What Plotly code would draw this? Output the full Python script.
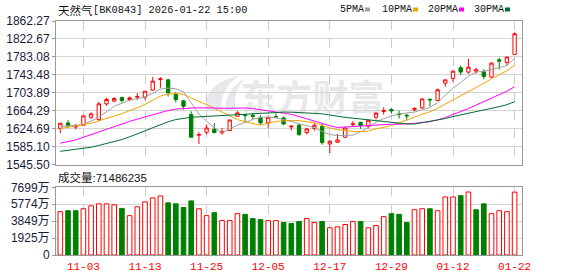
import plotly.graph_objects as go

dates = [
    "2025-10-29", "2025-10-30", "2025-10-31", "2025-11-03", "2025-11-04", "2025-11-05",
    "2025-11-06", "2025-11-07", "2025-11-10", "2025-11-11", "2025-11-12", "2025-11-13",
    "2025-11-14", "2025-11-17", "2025-11-18", "2025-11-19", "2025-11-20", "2025-11-21",
    "2025-11-24", "2025-11-25", "2025-11-26", "2025-11-27", "2025-11-28", "2025-12-01",
    "2025-12-02", "2025-12-03", "2025-12-04", "2025-12-05", "2025-12-08", "2025-12-09",
    "2025-12-10", "2025-12-11", "2025-12-12", "2025-12-15", "2025-12-16", "2025-12-17",
    "2025-12-18", "2025-12-19", "2025-12-22", "2025-12-23", "2025-12-24", "2025-12-25",
    "2025-12-26", "2025-12-29", "2025-12-30", "2025-12-31", "2026-01-05", "2026-01-06",
    "2026-01-07", "2026-01-08", "2026-01-09", "2026-01-12", "2026-01-13", "2026-01-14",
    "2026-01-15", "2026-01-16", "2026-01-19", "2026-01-20", "2026-01-21", "2026-01-22",
]

opens = [
    1625.1, 1637.6, 1628.8, 1632.5, 1650.1, 1645.0, 1679.6, 1685.5, 1693.6, 1689.2,
    1694.3, 1694.4, 1709.8, 1733.3, 1732.6, 1700.2, 1686.2, 1656.0, 1610.4, 1617.0,
    1623.6, 1615.6, 1620.7, 1652.3, 1656.0, 1654.5, 1648.7, 1637.6, 1651.2, 1648.7,
    1628.8, 1632.5, 1616.3, 1625.1, 1630.3, 1591.2, 1594.9, 1606.0, 1634.0, 1639.0,
    1630.3, 1650.1, 1662.7, 1667.1, 1657.5, 1654.5, 1666.3, 1670.8, 1689.9, 1687.0,
    1725.2, 1735.6, 1759.1, 1749.6, 1751.8, 1750.3, 1738.5, 1776.8, 1770.9, 1788.6,
]
highs = [
    1637.0, 1644.2, 1635.4, 1653.5, 1661.2, 1684.0, 1692.9, 1694.3, 1695.8, 1695.8,
    1703.2, 1707.6, 1738.5, 1738.5, 1734.0, 1706.1, 1688.4, 1663.4, 1617.0, 1634.0,
    1636.9, 1626.6, 1644.2, 1663.4, 1656.8, 1659.7, 1654.5, 1650.1, 1659.0, 1651.6,
    1632.5, 1635.4, 1626.6, 1636.9, 1637.6, 1600.0, 1613.3, 1628.0, 1641.3, 1639.9,
    1643.5, 1661.9, 1672.2, 1670.8, 1664.9, 1657.5, 1672.2, 1690.6, 1690.6, 1713.5,
    1732.6, 1753.2, 1764.3, 1779.0, 1759.1, 1756.2, 1770.9, 1781.2, 1784.2, 1837.2,
]
lows = [
    1614.8, 1626.6, 1623.6, 1631.0, 1646.5, 1641.3, 1675.2, 1684.0, 1682.5, 1685.5,
    1688.4, 1688.0, 1709.0, 1715.0, 1695.8, 1682.5, 1667.0, 1606.0, 1591.2, 1611.9,
    1614.8, 1612.0, 1620.7, 1651.6, 1639.9, 1645.0, 1634.0, 1626.6, 1648.7, 1632.5,
    1620.7, 1609.0, 1611.9, 1620.7, 1589.8, 1571.4, 1594.9, 1604.5, 1629.5, 1624.4,
    1625.1, 1645.0, 1656.0, 1659.0, 1647.2, 1644.2, 1663.4, 1669.3, 1673.7, 1686.2,
    1717.9, 1728.2, 1742.9, 1745.9, 1745.9, 1734.1, 1737.0, 1755.4, 1765.0, 1788.6,
]
closes = [
    1636.9, 1631.0, 1629.5, 1653.1, 1657.5, 1679.6, 1689.2, 1691.4, 1687.0, 1692.9,
    1695.8, 1707.6, 1729.7, 1734.8, 1703.9, 1689.2, 1674.4, 1606.0, 1611.9, 1626.6,
    1616.3, 1617.8, 1644.2, 1659.7, 1653.8, 1652.3, 1637.6, 1650.1, 1650.6, 1635.4,
    1630.3, 1611.9, 1624.4, 1632.5, 1594.2, 1597.1, 1600.0, 1626.6, 1635.4, 1631.7,
    1643.5, 1659.0, 1664.9, 1664.1, 1656.0, 1653.1, 1669.3, 1690.6, 1688.4, 1710.5,
    1732.6, 1751.8, 1749.6, 1760.6, 1754.7, 1740.0, 1769.4, 1773.8, 1782.7, 1834.2,
]

# volume in 万 (10k shares)
volumes_wan = [
    4924, 5036, 5036, 5259, 5595, 5819, 5819, 5707, 5297, 4476,
    5483, 6043, 6490, 6714, 5931, 5819, 5409, 6155, 5259, 4476,
    4812, 3917, 3917, 4700, 4625, 4140, 4028, 3917, 3917, 3693,
    3581, 3805, 4140, 3693, 3805, 3096, 3208, 3469, 3805, 3805,
    3096, 3357, 4364, 4700, 4625, 3693, 5147, 5259, 5259, 5036,
    6602, 6602, 6751, 7162, 5147, 5819, 4700, 5036, 4924, 7148.6235,
]

ma5 = [
    1630.0, 1631.0, 1632.0, 1635.0, 1641.6, 1650.1, 1661.8, 1674.2, 1680.9, 1688.0,
    1691.3, 1694.9, 1702.6, 1712.2, 1714.4, 1713.0, 1706.4, 1681.7, 1657.1, 1641.6,
    1627.0, 1615.7, 1623.4, 1632.9, 1638.4, 1645.6, 1649.5, 1650.7, 1648.9, 1645.2,
    1640.8, 1635.7, 1630.5, 1626.9, 1618.7, 1612.0, 1609.6, 1610.1, 1610.7, 1618.2,
    1627.4, 1639.2, 1646.9, 1652.6, 1657.5, 1659.4, 1661.5, 1666.6, 1671.5, 1682.4,
    1698.3, 1714.8, 1726.6, 1741.0, 1749.9, 1751.3, 1754.9, 1759.7, 1764.1, 1780.0,
]
ma10 = [
    1625.0, 1627.5, 1630.5, 1634.0, 1637.0, 1642.0, 1647.0, 1652.0, 1658.0, 1664.8,
    1670.7, 1678.4, 1688.4, 1696.6, 1701.2, 1702.2, 1700.7, 1692.1, 1684.6, 1678.0,
    1670.0, 1661.1, 1652.5, 1645.0, 1640.0, 1636.3, 1632.6, 1637.0, 1640.9, 1641.8,
    1643.2, 1642.6, 1640.6, 1637.9, 1631.9, 1626.4, 1622.7, 1620.3, 1618.8, 1618.4,
    1619.7, 1624.4, 1628.5, 1631.7, 1637.8, 1643.4, 1650.4, 1656.8, 1662.1, 1669.9,
    1678.9, 1688.1, 1696.6, 1706.3, 1716.1, 1724.8, 1734.8, 1743.1, 1752.6, 1764.9,
]
ma20 = [
    1593.0, 1596.0, 1600.0, 1606.0, 1612.0, 1618.0, 1624.0, 1630.0, 1636.0, 1641.0,
    1646.0, 1651.0, 1656.0, 1661.0, 1665.0, 1668.0, 1670.0, 1670.5, 1671.0, 1671.4,
    1670.4, 1669.7, 1670.4, 1670.8, 1670.6, 1669.2, 1666.6, 1664.6, 1662.8, 1659.9,
    1656.6, 1651.8, 1646.6, 1641.4, 1636.0, 1631.4, 1627.6, 1628.7, 1629.8, 1630.1,
    1631.5, 1633.5, 1634.6, 1634.8, 1634.9, 1634.9, 1636.5, 1638.5, 1640.4, 1644.2,
    1649.3, 1656.3, 1662.5, 1669.0, 1677.0, 1684.1, 1692.6, 1700.0, 1707.3, 1717.4,
]
ma30 = [
    1575.0, 1577.0, 1579.0, 1581.0, 1584.0, 1588.0, 1592.0, 1596.0, 1601.0, 1607.0,
    1613.0, 1620.0, 1627.0, 1634.0, 1640.0, 1645.0, 1648.0, 1650.0, 1651.0, 1652.0,
    1653.0, 1654.0, 1655.5, 1657.0, 1658.0, 1659.0, 1659.5, 1660.0, 1661.0, 1661.5,
    1661.3, 1660.7, 1660.5, 1659.8, 1657.7, 1655.0, 1652.0, 1649.8, 1648.1, 1646.1,
    1644.3, 1642.7, 1640.5, 1638.2, 1636.6, 1635.4, 1635.2, 1638.0, 1640.6, 1643.4,
    1647.3, 1651.7, 1655.2, 1658.6, 1662.0, 1664.9, 1669.3, 1673.4, 1677.8, 1684.4,
]

price_ticks = [1545.50, 1585.10, 1624.69, 1664.29, 1703.89, 1743.48, 1783.08, 1822.67, 1862.27]
vol_ticks = [0, 1924.75, 3849.5, 5774.25, 7699]
vol_tick_labels = ["0", "1925万", "3849万", "5774万", "7699万"]
x_tick_dates = ["2025-11-03", "2025-11-13", "2025-11-25", "2025-12-05",
                "2025-12-17", "2025-12-29", "2026-01-12", "2026-01-22"]
x_tick_labels = ["11-03", "11-13", "11-25", "12-05", "12-17", "12-29", "01-12", "01-22"]

title_name = "天然气"
title_rest = "[BK0843] 2026-01-22 15:00"
last_volume_text = "成交量:71486235"
ma_names = ["5PMA", "10PMA", "20PMA", "30PMA"]
watermark_text = "东方财富"

RED = "#ff0000"
GREEN = "#008000"
ma_colors = ["#a0a0a0", "#f5a300", "#ff00ff", "#006d32"]
WM_COLOR = "#e8e8ec"

W, H = 578, 276
ML, MR, MT, MB = 56, 56, 21, 21
PW, PH = W - ML - MR, H - MT - MB


def px(x):
    return (x - ML) / PW


def py(y):
    return (H - MB - y) / PH


fig = go.Figure()

fig.add_trace(go.Candlestick(
    x=dates, open=opens, high=highs, low=lows, close=closes,
    increasing=dict(line=dict(color=RED, width=1), fillcolor="#ffffff"),
    decreasing=dict(line=dict(color=GREEN, width=1), fillcolor=GREEN),
    whiskerwidth=0, xaxis="x", yaxis="y", hoverinfo="skip", showlegend=False,
))

for name, vals, col in zip(ma_names, [ma5, ma10, ma20, ma30], ma_colors):
    fig.add_trace(go.Scatter(
        x=dates, y=vals, mode="lines", line=dict(color=col, width=1),
        xaxis="x", yaxis="y", hoverinfo="skip", showlegend=False, name=name,
    ))

vol_up = [i == 0 or closes[i] >= closes[i - 1] for i in range(len(closes))]
fig.add_trace(go.Bar(
    x=dates, y=volumes_wan, width=0.6,
    marker=dict(color=["#ffffff" if u else GREEN for u in vol_up],
                line=dict(color=[RED if u else GREEN for u in vol_up], width=1)),
    xaxis="x2", yaxis="y2", hoverinfo="skip", showlegend=False,
))

axis_common = dict(showline=True, linecolor="#999999", linewidth=1, mirror=True,
                   zeroline=False, fixedrange=True, automargin=False)
xr = [-0.56, 59.96]

fig.update_layout(
    width=W, height=H, margin=dict(l=ML, r=MR, t=MT, b=MB, autoexpand=False),
    paper_bgcolor="#ffffff", plot_bgcolor="#ffffff",
    boxgap=0.38, bargap=0.4,
    xaxis=dict(axis_common, type="category", range=xr, anchor="y", domain=[0, 1],
               tickvals=x_tick_dates, ticktext=x_tick_labels, showticklabels=False,
               showgrid=True, gridcolor="#cccccc", griddash="dash", gridwidth=1,
               ticks="", rangeslider=dict(visible=False)),
    xaxis2=dict(axis_common, type="category", range=xr, anchor="y2", domain=[0, 1],
                matches="x",
                tickvals=x_tick_dates, ticktext=x_tick_labels, showticklabels=True,
                tickfont=dict(family="Liberation Mono", size=11, color=RED),
                ticklabelstandoff=1,
                showgrid=True, gridcolor="#cccccc", griddash="dash", gridwidth=1,
                ticks=""),
    yaxis=dict(axis_common, domain=[py(164.7), 1.0], range=[1545.50, 1862.27],
               tickvals=price_ticks, ticktext=[f"{v:.2f}" for v in price_ticks],
               tickfont=dict(family="Liberation Sans", size=12, color="#1a1a3a"),
               showgrid=True, gridcolor="#d4d4d4", gridwidth=1,
               ticks="outside", ticklen=3, tickcolor="#999999"),
    yaxis2=dict(axis_common, domain=[0, py(187.3)], range=[0, 7699],
                tickvals=vol_ticks, ticktext=vol_tick_labels,
                tickfont=dict(family="Liberation Sans, Noto Sans CJK SC", size=12, color="#1a1a3a"),
                showgrid=True, gridcolor="#d4d4d4", gridwidth=1,
                ticks="outside", ticklen=3, tickcolor="#999999"),
)

annotations = [
    dict(text=title_name, x=px(56), y=py(10), xanchor="left", yanchor="middle",
         font=dict(family="Noto Sans CJK SC", size=11.5, color="#111111")),
    dict(text=title_rest, x=px(91), y=py(10), xanchor="left", yanchor="middle",
         font=dict(family="Liberation Mono", size=10.3, color="#111111")),
    dict(text=last_volume_text, x=px(56), y=py(177), xanchor="left", yanchor="middle",
         font=dict(family="Liberation Sans, Noto Sans CJK SC", size=11.5, color="#111111")),
]
legend_x = [338, 380, 426, 472]
square_x = [365, 413, 459, 505]
shapes = []
for name, col, lx, sx in zip(ma_names, ma_colors, legend_x, square_x):
    annotations.append(dict(text=name, x=px(lx), y=py(9.5), xanchor="left", yanchor="middle",
                            font=dict(family="Liberation Mono", size=10, color="#111111")))
    shapes.append(dict(type="rect", xref="paper", yref="paper",
                       x0=px(sx), x1=px(sx + 5), y0=py(11.5), y1=py(7.5),
                       fillcolor=col, line=dict(width=0)))
for a in annotations:
    a.update(xref="paper", yref="paper", showarrow=False)

# watermark (behind the data): logo swoosh + brand text
def pt(x, y):
    return f"{px(x):.5f},{py(y):.5f}"

logo_paths = [
    [(206, 111), (203, 96), (214, 81), (240, 75), (226, 85), (219, 97), (222, 111)],
    [(226, 111), (224, 98), (231, 86), (244, 79), (236, 90), (233, 100), (236, 111)],
]
for pts in logo_paths:
    (x0, y0), c1, c2, (x1, y1), d1, d2, (x2, y2) = pts
    path = (f"M {pt(x0, y0)} C {pt(*c1)} {pt(*c2)} {pt(x1, y1)} "
            f"C {pt(*d1)} {pt(*d2)} {pt(x2, y2)} Z")
    shapes.append(dict(type="path", xref="paper", yref="paper", path=path,
                       fillcolor=WM_COLOR, line=dict(width=0), layer="below"))

shapes.append(dict(type="rect", xref="paper", yref="paper",
                   x0=px(245), x1=px(380), y0=py(119), y1=py(82),
                   line=dict(width=0), fillcolor="rgba(0,0,0,0)", layer="below",
                   label=dict(text=watermark_text, textposition="middle center",
                              font=dict(family="Noto Sans CJK SC", size=36,
                                        color=WM_COLOR, weight="bold"))))

fig.update_layout(annotations=annotations, shapes=shapes)

fig.write_html("out.html")
